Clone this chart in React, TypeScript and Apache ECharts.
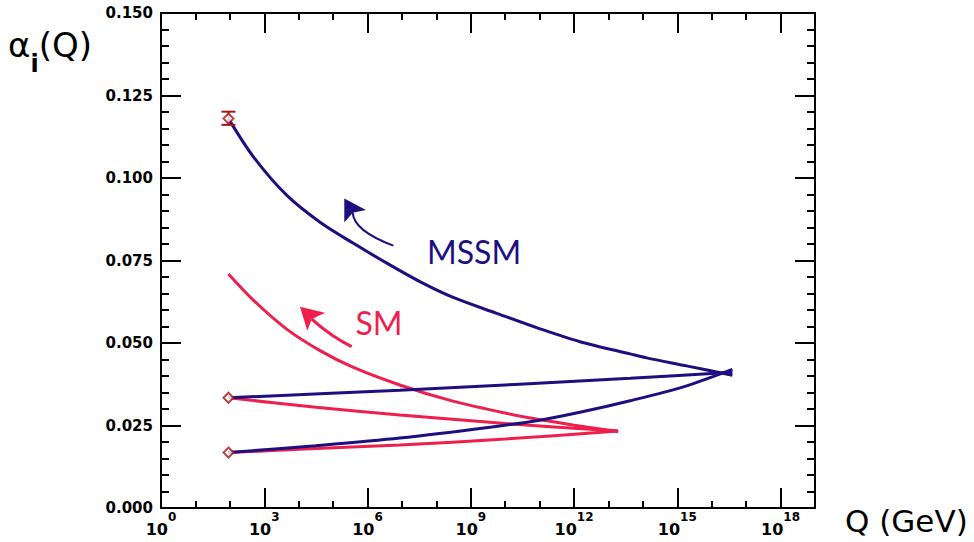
import { useEffect, useRef } from "react";
import * as echarts from "echarts";

// x values are log10(Q / GeV), y values are alpha_i
const xTickExponents = [0, 3, 6, 9, 12, 15, 18];

const smAlpha3 = [[1.96, 0.0709], [2.68, 0.063], [3.65, 0.0542], [4.62, 0.0477], [5.59, 0.0426], [6.96, 0.0372], [8.4, 0.0326], [9.85, 0.0291], [10.82, 0.0271], [12.0, 0.0251], [13.28, 0.0232]];
const smAlpha2 = [[1.96, 0.0334], [4.5, 0.0305], [6.94, 0.0282], [10.0, 0.0256], [13.28, 0.0233]];
const smAlpha1 = [[1.96, 0.0168], [4.5, 0.018], [6.94, 0.0191], [10.0, 0.0209], [13.28, 0.0233]];

const mssmAlpha3 = [[1.96, 0.118], [2.68, 0.1065], [3.65, 0.0948], [4.62, 0.0866], [5.59, 0.0802], [6.56, 0.0742], [7.52, 0.0686], [8.49, 0.0638], [9.75, 0.059], [11.01, 0.0543], [12.17, 0.0504], [13.63, 0.0467], [14.11, 0.0455], [15.3, 0.043], [16.6, 0.0402]];
const mssmAlpha2 = [[1.96, 0.0334], [6.94, 0.0357], [13.63, 0.0393], [16.6, 0.0411]];
const mssmAlpha1 = [[1.96, 0.0168], [4.5, 0.0189], [6.94, 0.0212], [9.5, 0.0244], [11.0, 0.0266], [12.17, 0.029], [13.63, 0.0325], [15.2, 0.0368], [16.6, 0.042]];

const measured = [[1.96, 0.118], [1.96, 0.0334], [1.96, 0.0168]];
const errorBars = [[1.96, 0.1161, 0.1201]];

// annotation anchors (data coords)
const mssmArrowShaft = [[6.749, 0.0795], [5.596, 0.084], [5.57, 0.0895]];
const mssmArrowHead = [[5.325, 0.0938], [5.956, 0.0903], [5.57, 0.0895], [5.325, 0.0865]];
const smArrowShaft = [[5.54, 0.0489], [4.959, 0.0518], [4.378, 0.0572]];
const smArrowHead = [[4.038, 0.061], [4.765, 0.0592], [4.378, 0.0572], [4.25, 0.0537]];
const mssmLabelPos = [9.094, 0.0776];
const smLabelPos = [6.334, 0.0561];

const NAVY = "#1e0f80";
const RED = "#ef1f4d";
const MARK = "#a3161c";
const FONT = "DejaVu Sans";

export default function App() {
  const ref = useRef<HTMLDivElement>(null);
  useEffect(() => {
    const chart = echarts.init(ref.current!, null, { renderer: "svg" });
    const axisLine = { show: true, onZero: false, lineStyle: { color: "#000", width: 2 } };
    const tickStyle = { color: "#000", width: 2 };
    const xMajor = (position: string, labels: boolean) => ({
      type: "value",
      min: 0,
      max: 19,
      interval: 3,
      position,
      axisLine,
      axisTick: { show: true, inside: true, length: 20, lineStyle: tickStyle },
      splitLine: { show: false },
      axisLabel: labels
        ? {
            show: true,
            margin: 3,
            showMaxLabel: false,
            fontSize: 16,
            formatter: (v: number) => (xTickExponents.includes(v) ? `{b|10}{s|${v}}` : ""),
            rich: {
              b: { fontFamily: FONT, fontWeight: "bold", fontSize: 16, lineHeight: 26, verticalAlign: "bottom", color: "#000" },
              s: { fontFamily: FONT, fontWeight: "bold", fontSize: 12, lineHeight: 16, verticalAlign: "top", color: "#000" },
            },
          }
        : { show: false },
    });
    const xMinor = (position: string) => ({
      type: "value",
      min: 0,
      max: 19,
      interval: 1,
      position,
      axisLine,
      axisTick: { show: true, inside: true, length: 7, lineStyle: tickStyle },
      splitLine: { show: false },
      axisLabel: { show: false },
    });
    const yAxis = (position: string, labels: boolean) => ({
      type: "value",
      min: 0,
      max: 0.15,
      interval: 0.025,
      position,
      axisLine,
      axisTick: { show: true, inside: true, length: 20, lineStyle: tickStyle },
      minorTick: { show: true, splitNumber: 5, length: 8, lineStyle: tickStyle },
      splitLine: { show: false },
      minorSplitLine: { show: false },
      axisLabel: labels
        ? { show: true, margin: 8, fontFamily: FONT, fontWeight: "bold", fontSize: 15, color: "#000", formatter: (v: number) => v.toFixed(3) }
        : { show: false },
    });

    const line = (data: number[][], color: string, smooth: number) => ({
      type: "line",
      data,
      xAxisIndex: 0,
      yAxisIndex: 0,
      symbol: "none",
      smooth,
      lineStyle: { color, width: 3 },
      z: 2,
    });

    chart.setOption({
      animation: false,
      backgroundColor: "#fff",
      grid: { left: 161, right: 159, top: 13, bottom: 34, containLabel: false },
      xAxis: [xMajor("bottom", true), xMinor("bottom"), xMajor("top", false), xMinor("top")],
      yAxis: [yAxis("left", true), yAxis("right", false)],
      series: [
        line(smAlpha3, RED, 0.3),
        line(smAlpha2, RED, 0.3),
        line(smAlpha1, RED, 0.3),
        line(mssmAlpha3, NAVY, 0.3),
        line(mssmAlpha2, NAVY, 0.3),
        line(mssmAlpha1, NAVY, 0.3),
        {
          type: "custom",
          xAxisIndex: 0,
          yAxisIndex: 0,
          data: errorBars,
          z: 5,
          renderItem: (params: any, api: any) => {
            const x = api.value(0);
            const lo = api.coord([x, api.value(1)]);
            const hi = api.coord([x, api.value(2)]);
            const w = 7;
            const style = { stroke: MARK, lineWidth: 2 };
            return {
              type: "group",
              children: [
                { type: "line", shape: { x1: lo[0], y1: lo[1], x2: hi[0], y2: hi[1] }, style },
                { type: "line", shape: { x1: lo[0] - w, y1: lo[1], x2: lo[0] + w, y2: lo[1] }, style },
                { type: "line", shape: { x1: hi[0] - w, y1: hi[1], x2: hi[0] + w, y2: hi[1] }, style },
              ],
            };
          },
        },
        {
          type: "scatter",
          xAxisIndex: 0,
          yAxisIndex: 0,
          data: measured,
          symbol: "emptyDiamond",
          symbolSize: 10,
          itemStyle: { color: MARK, borderWidth: 2 },
          z: 6,
        },
      ],
    });

    const px = (p: number[]) => chart.convertToPixel({ xAxisIndex: 0, yAxisIndex: 0 }, p) as number[];
    const arrow = (shaft: number[][], head: number[][], color: string, width: number) => {
      const [a, c, b] = shaft.map(px);
      return [
        {
          type: "bezierCurve",
          shape: { x1: a[0], y1: a[1], cpx1: c[0], cpy1: c[1], x2: b[0], y2: b[1] },
          style: { stroke: color, lineWidth: width, fill: null },
          z: 10,
        },
        { type: "polygon", shape: { points: head.map(px) }, style: { fill: color }, z: 10 },
      ];
    };
    const mPos = px(mssmLabelPos);
    const sPos = px(smLabelPos);
    chart.setOption({
      graphic: [
        ...arrow(mssmArrowShaft, mssmArrowHead, NAVY, 2),
        ...arrow(smArrowShaft, smArrowHead, RED, 3),
        {
          type: "text",
          x: mPos[0],
          y: mPos[1],
          style: { text: "MSSM", fill: NAVY, font: "32px Lato", align: "center", verticalAlign: "middle", textAlign: "center", textVerticalAlign: "middle" },
          z: 10,
        },
        {
          type: "text",
          x: sPos[0],
          y: sPos[1],
          style: { text: "SM", fill: RED, font: "32px Lato", align: "center", verticalAlign: "middle", textAlign: "center", textVerticalAlign: "middle" },
          z: 10,
        },
        {
          type: "text",
          x: 8,
          y: 28,
          style: {
            text: "{a|α}{i|i}{a|(Q)}",
            fill: "#000",
            rich: {
              a: { fontFamily: FONT, fontSize: 34, lineHeight: 48, verticalAlign: "top", fill: "#000", color: "#000" },
              i: { fontFamily: FONT, fontWeight: "bold", fontSize: 24, lineHeight: 24, verticalAlign: "bottom", fill: "#000", color: "#000" },
            },
          },
        },
        {
          type: "text",
          x: 845,
          y: 505,
          style: { text: "Q (GeV)", fill: "#000", font: `31px '${FONT}'` },
        },
      ],
    });

    return () => chart.dispose();
  }, []);
  return <div ref={ref} style={{ position: "fixed", left: 0, top: 0, width: 974, height: 542, background: "#fff" }} />;
}
